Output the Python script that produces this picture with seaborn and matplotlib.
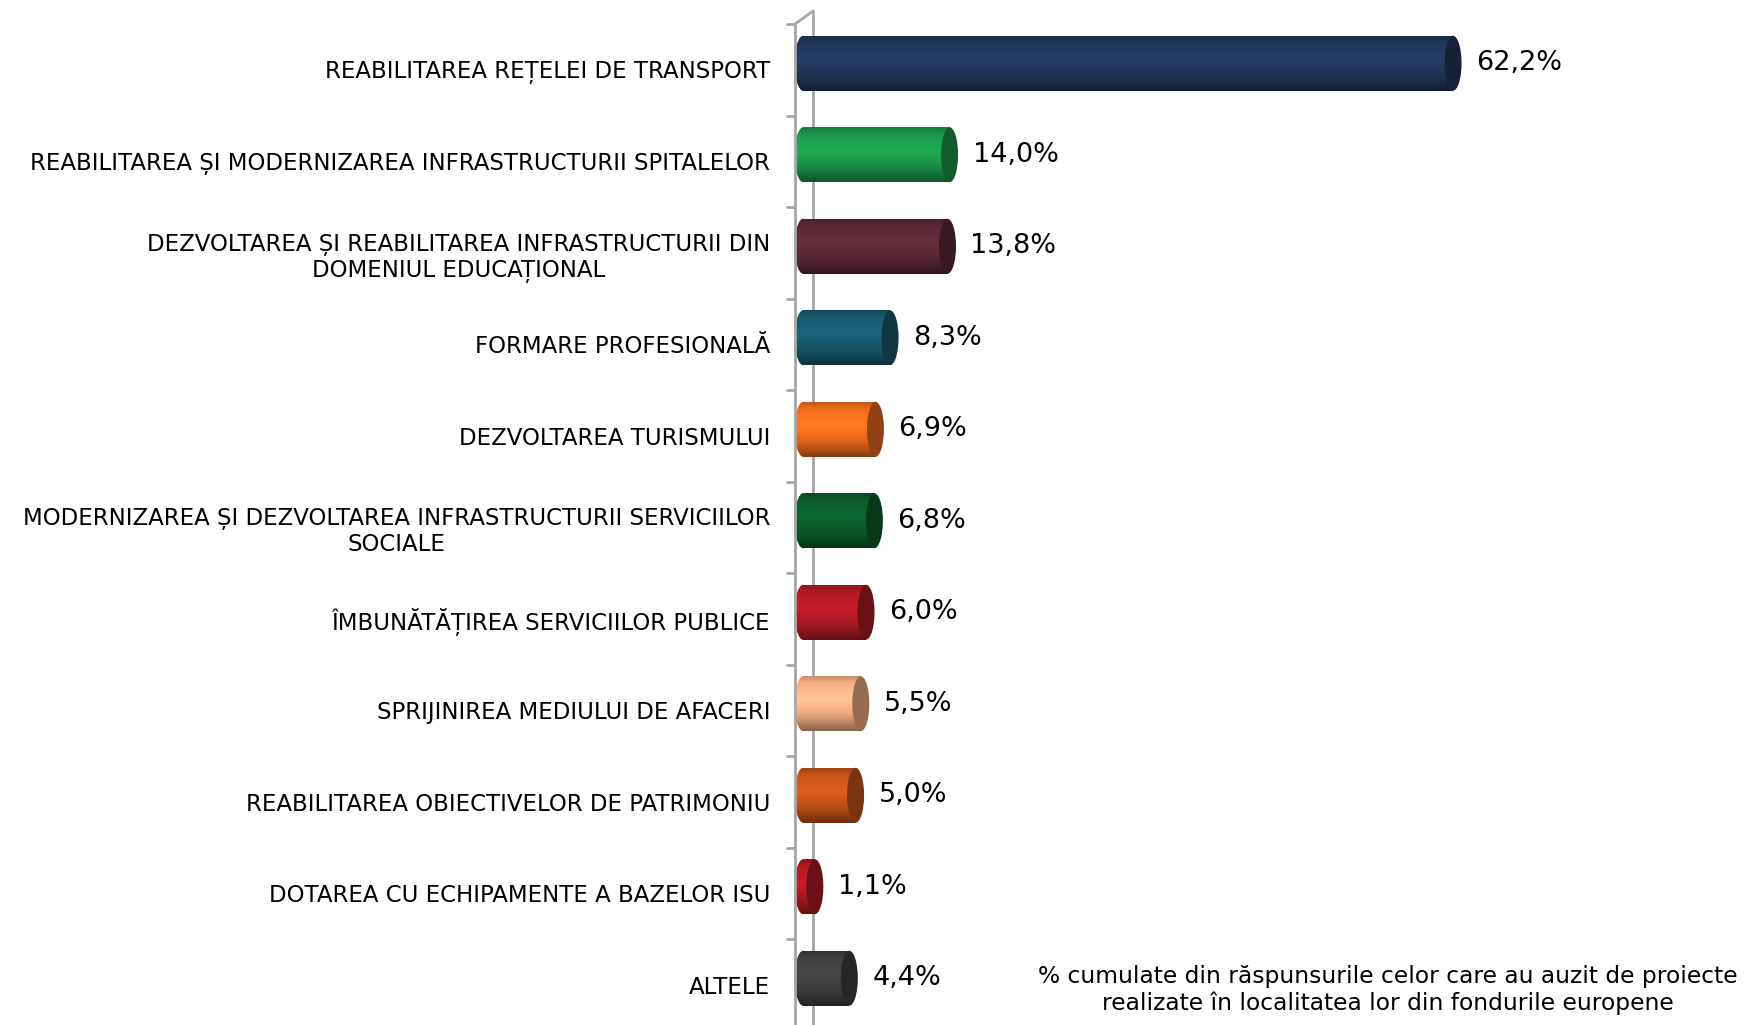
import numpy as np
import pandas as pd
import matplotlib
matplotlib.use("Agg")
import matplotlib.pyplot as plt
import matplotlib.transforms as mtransforms
from matplotlib.patches import Ellipse
from matplotlib.lines import Line2D
from matplotlib.colors import to_rgb
import seaborn as sns

categories = [
    "REABILITAREA REȚELEI DE TRANSPORT",
    "REABILITAREA ȘI MODERNIZAREA INFRASTRUCTURII SPITALELOR",
    "DEZVOLTAREA ȘI REABILITAREA INFRASTRUCTURII DIN\nDOMENIUL EDUCAȚIONAL",
    "FORMARE PROFESIONALĂ",
    "DEZVOLTAREA TURISMULUI",
    "MODERNIZAREA ȘI DEZVOLTAREA INFRASTRUCTURII SERVICIILOR\nSOCIALE",
    "ÎMBUNĂTĂȚIREA SERVICIILOR PUBLICE",
    "SPRIJINIREA MEDIULUI DE AFACERI",
    "REABILITAREA OBIECTIVELOR DE PATRIMONIU",
    "DOTAREA CU ECHIPAMENTE A BAZELOR ISU",
    "ALTELE",
]
values = [62.2, 14.0, 13.8, 8.3, 6.9, 6.8, 6.0, 5.5, 5.0, 1.1, 4.4]
value_labels = ["62,2%", "14,0%", "13,8%", "8,3%", "6,9%", "6,8%", "6,0%", "5,5%", "5,0%", "1,1%", "4,4%"]
colors = ["#233759", "#1C9A4B", "#5C2A38", "#185B6E", "#F56D1E", "#0A5F2D",
          "#B31B25", "#FDB286", "#C9561A", "#B31B25", "#404040"]
note = ("% cumulate din răspunsurile celor care au auzit de proiecte\n"
        "realizate în localitatea lor din fondurile europene")

sns.set_style("white")
plt.rcParams["font.family"] = ["DejaVu Sans"]

df = pd.DataFrame({"cat": categories, "val": values})

W, H = 1744, 1025
fig = plt.figure(figsize=(W / 100, H / 100), dpi=100)
xmin, xmax = -0.8, 90.0
ax = fig.add_axes([795 / W, 1 / H, 948.4 / W, 1006.5 / H])

sns.barplot(data=df, y="cat", x="val", hue="cat", palette=colors, orient="h",
            width=0.6, legend=False, ax=ax, saturation=1, edgecolor="none")

px_per_unit = 948.4 / (xmax - xmin)
cap_w = 17 / px_per_unit


def shade(c, n=64):
    base = np.array(to_rgb(c))
    t = np.linspace(0, 1, n)
    f = np.interp(t, [0, 0.12, 0.42, 0.75, 1.0], [0.80, 0.98, 1.12, 0.88, 0.55])
    arr = np.clip(base[None, :] * f[:, None], 0, 1)
    rgba = np.concatenate([arr, np.ones((n, 1))], axis=1)
    return rgba[:, None, :]


for i, (patch, c, v) in enumerate(zip(ax.patches[:len(values)], colors, values)):
    y0 = patch.get_y()
    h = patch.get_height()
    lcap = Ellipse((0, y0 + h / 2), cap_w, h, facecolor=c, edgecolor="none", zorder=2)
    ax.add_patch(lcap)
    grad = shade(c)
    for clip in (patch, lcap):
        im = ax.imshow(grad, extent=(-cap_w, v, y0 + h, y0), aspect="auto",
                       zorder=3, interpolation="bilinear")
        im.set_clip_path(clip)
    dark = tuple(np.array(to_rgb(c)) * 0.6)
    rcap = Ellipse((v, y0 + h / 2), cap_w, h, facecolor=dark, edgecolor="none", zorder=4)
    ax.add_patch(rcap)
    ax.annotate(value_labels[i], xy=(v, i), xytext=(16.5, 0), textcoords="offset points",
                ha="left", va="center", fontsize=19.5, color="black")

ax.set_xlim(xmin, xmax)
ax.set_ylim(len(categories) - 0.5, -0.5)
ax.set_xlabel("")
ax.set_ylabel("")
ax.set_xticks([])
for s in ax.spines.values():
    s.set_visible(False)

# category labels, shifted to the front plane of the 3D wall
down = mtransforms.ScaledTranslation(0, -0.065, fig.dpi_scale_trans)
up = mtransforms.ScaledTranslation(0, 0.065, fig.dpi_scale_trans)
right = mtransforms.ScaledTranslation(0.18, 0, fig.dpi_scale_trans)
ticklen = mtransforms.ScaledTranslation(-0.08, 0, fig.dpi_scale_trans)
ax.tick_params(axis="y", length=0, pad=18, labelsize=16.5, labelcolor="black")
for lab in ax.get_yticklabels():
    lab.set_multialignment("center")
    lab.set_transform(lab.get_transform() + down)

# 3D wall lines
wall = "#A6A6A6"
blend = mtransforms.blended_transform_factory(ax.transAxes, ax.transData)
n = len(categories)
ax.add_line(Line2D([0, 0], [-0.5, n + 0.5], color=wall, lw=2, transform=blend + down,
                   clip_on=False, zorder=5))
ax.add_line(Line2D([0, 0], [-0.5, n + 0.5], color=wall, lw=2, transform=blend + up + right,
                   clip_on=False, zorder=1))
for b in np.arange(-0.5, n, 1.0):
    p0 = (blend + down).transform((0, b))
    p1 = (blend + down + ticklen).transform((0, b))
    fig.add_artist(Line2D([p0[0] / W, p1[0] / W], [p0[1] / H, p1[1] / H], color=wall, lw=2,
                          transform=fig.transFigure))
p0 = (blend + down).transform((0, -0.5))
p1 = (blend + up + right).transform((0, -0.5))
fig.add_artist(Line2D([p0[0] / W, p1[0] / W], [p0[1] / H, p1[1] / H], color=wall, lw=2,
                      transform=fig.transFigure))

fig.text(1388 / W, 0.034, note, ha="center", va="center", fontsize=16.8, linespacing=1.22,
         multialignment="center", color="black")

fig.savefig("out.png", dpi=100, facecolor="white")
